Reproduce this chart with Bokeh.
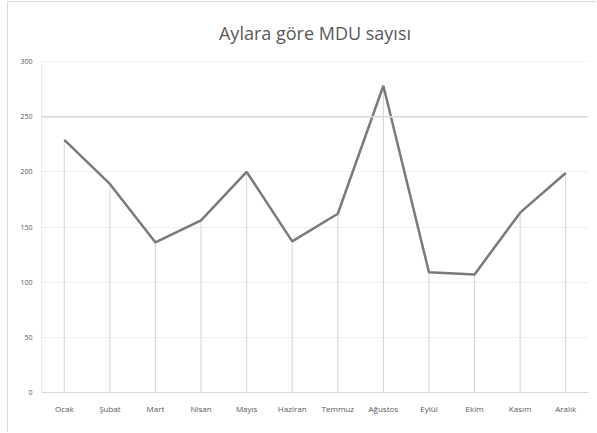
from bokeh.plotting import figure
from bokeh.models import ColumnDataSource, FixedTicker, Span
from bokeh.embed import file_html
from bokeh.resources import INLINE

months = ["Ocak", "Şubat", "Mart", "Nisan", "Mayıs", "Haziran", "Temmuz",
          "Ağustos", "Eylül", "Ekim", "Kasım", "Aralık"]
mdu_counts = [229, 189, 136, 156, 200, 137, 162, 278, 109, 107, 163, 199]
y_ticks = [0, 50, 100, 150, 200, 250, 300]
title_text = "Aylara göre MDU sayısı"

source = ColumnDataSource(data=dict(month=months, count=mdu_counts,
                                    base=[0] * len(months)))

p = figure(x_range=months, y_range=(0, 300), width=589, height=431,
           output_backend="svg", toolbar_location=None,
           min_border_left=33, min_border_right=9,
           min_border_top=59, min_border_bottom=41)

p.styles = {"margin-left": "7px", "margin-top": "1px",
            "border-left": "1px solid #d9d9d9", "border-top": "1px solid #d9d9d9"}

p.title.text = title_text
p.title.align = "center"
p.title.text_font = "Open Sans"
p.title.text_font_size = "18px"
p.title.text_font_style = "normal"
p.title.text_color = "#595959"
p.title.standoff = 33

p.outline_line_color = None
p.background_fill_color = "white"
p.border_fill_color = "white"

# grid
p.xgrid.grid_line_color = None
p.ygrid.grid_line_color = "#efefef"
p.ygrid.grid_line_width = 1
p.yaxis.ticker = FixedTicker(ticks=y_ticks)
p.add_layout(Span(location=250, dimension="width", line_color="#d9d9d9", line_width=1.5))
p.add_layout(Span(location=300, dimension="width", line_color="#e6e6e6", line_width=1))

# drop lines
p.segment(x0="month", y0="base", x1="month", y1="count", source=source,
          line_color="#d4d4d4", line_width=1)

# main line
p.line(x="month", y="count", source=source, line_color="#7a7a7a", line_width=2.5)

# axes
for ax in (p.xaxis, p.yaxis):
    ax.major_tick_line_color = None
    ax.minor_tick_line_color = None
    ax.major_label_text_color = "#595959"
    ax.major_label_text_font = "Open Sans"
p.xaxis.axis_line_color = "#d9d9d9"
p.yaxis.axis_line_color = "#ececec"
p.xaxis.major_label_text_font_size = "8px"
p.yaxis.major_label_text_font_size = "7px"
p.xaxis.major_label_standoff = 4
p.yaxis.major_label_standoff = 3
p.x_range.range_padding = 0

open("out.html", "w").write(file_html(p, INLINE))
